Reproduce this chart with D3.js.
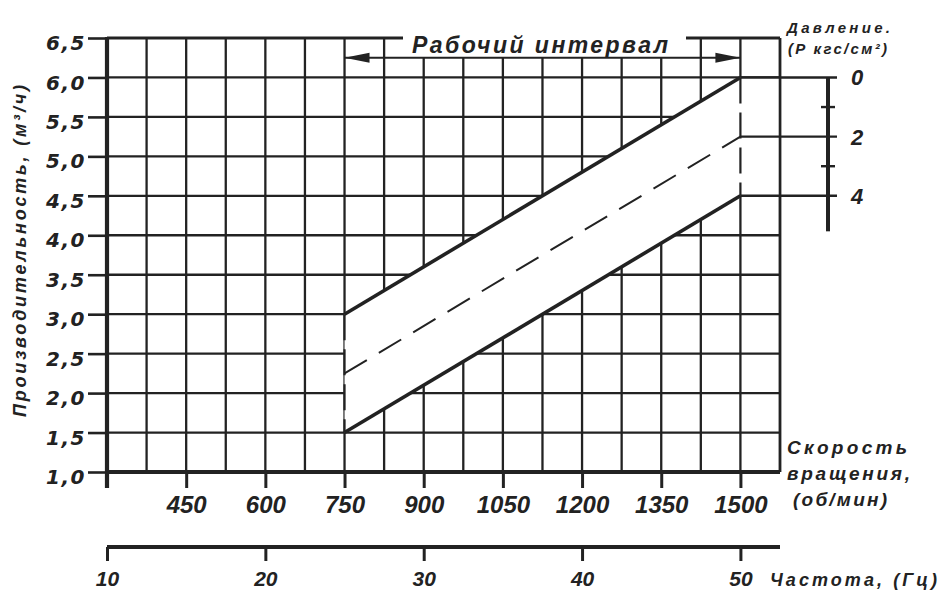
<!DOCTYPE html>
<html>
<head>
<meta charset="utf-8">
<script src="https://cdn.jsdelivr.net/npm/d3@7"></script>
<style>
  body { margin: 0; background: #fff; }
  text { fill: #222; }
</style>
</head>
<body>
<svg id="chart" width="943" height="595"></svg>
<script>
// Pump performance vs. rotation speed at several discharge pressures
const rpmTicks = [450, 600, 750, 900, 1050, 1200, 1350, 1500];
const hzTicks = [10, 20, 30, 40, 50];
const flowTicks = [1.0, 1.5, 2.0, 2.5, 3.0, 3.5, 4.0, 4.5, 5.0, 5.5, 6.0, 6.5];
const pressureTicks = [0, 1, 2, 3, 4];
const pressureLabels = [0, 2, 4];
const workRpm = [750, 1500];          // working interval ends
const flowAtP0 = [3.0, 6.0];          // P = 0 kgf/cm²
const flowAtP2 = [2.25, 5.25];        // P = 2 kgf/cm²
const flowAtP4 = [1.5, 4.5];          // P = 4 kgf/cm²

const ink = "#222";
const svg = d3.select("#chart");

const x = d3.scaleLinear().domain([300, 1575]).range([107, 780]);
const xHz = d3.scaleLinear().domain([10, 52.5]).range([107, 780]);
const y = d3.scaleLinear().domain([1.0, 6.5]).range([472, 38]);
// pressure read at the 1500 rpm edge
const pFlow = d3.scaleLinear().domain([0, 4]).range([flowAtP0[1], flowAtP4[1]]);

const gridRpm = d3.range(300, 1576, 75);

// grid
const grid = svg.append("g").attr("stroke", ink).attr("stroke-width", 2.3);
grid.selectAll("line.v").data(gridRpm).join("line")
  .attr("x1", d => x(d)).attr("x2", d => x(d))
  .attr("y1", y(6.5)).attr("y2", y(1.0));
grid.selectAll("line.h").data(flowTicks).join("line")
  .attr("x1", x(300)).attr("x2", x(1575))
  .attr("y1", d => y(d)).attr("y2", d => y(d))
  .attr("stroke-width", d => d === 6.5 ? 3 : 2.3);

// clear band between the P=0 and P=4 curves (and its extension to the right edge)
const band = [
  [workRpm[0], flowAtP0[0]], [workRpm[1], flowAtP0[1]], [1575, flowAtP0[1]],
  [1575, flowAtP4[1]], [workRpm[1], flowAtP4[1]], [workRpm[0], flowAtP4[0]]
];
svg.append("path")
  .attr("d", d3.line().x(d => x(d[0])).y(d => y(d[1]))(band) + "Z")
  .attr("fill", "#fff");

// dashed edges of the working interval inside the band
svg.append("g").attr("stroke", ink).attr("stroke-width", 2.2).attr("stroke-dasharray", "26,9")
  .selectAll("line").data([[workRpm[0], flowAtP0[0], flowAtP4[0]], [workRpm[1], flowAtP0[1], flowAtP4[1]]])
  .join("line")
  .attr("x1", d => x(d[0])).attr("x2", d => x(d[0]))
  .attr("y1", d => y(d[1])).attr("y2", d => y(d[2]));

// right border
svg.append("line").attr("stroke", ink).attr("stroke-width", 2.6)
  .attr("x1", x(1575)).attr("x2", x(1575)).attr("y1", y(6.5)).attr("y2", y(1.0));

// title box over the top row
svg.append("rect").attr("x", 403).attr("y", 28).attr("width", 283).attr("height", 29).attr("fill", "#fff");
svg.append("text")
  .attr("x", 412).attr("y", 53)
  .attr("textLength", 256).attr("lengthAdjust", "spacing")
  .style("font", "italic bold 23px 'Liberation Sans', Arial, sans-serif")
  .text("Рабочий интервал");

// working interval arrow
const arrowY = y(6.25);
svg.append("line").attr("stroke", ink).attr("stroke-width", 2.2)
  .attr("x1", x(workRpm[0])).attr("x2", x(workRpm[1])).attr("y1", arrowY).attr("y2", arrowY);
svg.append("path").attr("fill", ink)
  .attr("d", `M${x(workRpm[0])},${arrowY}l25,-5l0,10Z M${x(workRpm[1])},${arrowY}l-25,-5l0,10Z`);

// performance lines
const line = d3.line().x(d => x(d[0])).y(d => y(d[1]));
const series = [
  { vals: flowAtP0, w: 3.6, dash: null },
  { vals: flowAtP2, w: 2, dash: "26,14" },
  { vals: flowAtP4, w: 3.6, dash: null }
];
svg.append("g").selectAll("path").data(series).join("path")
  .attr("d", s => line(workRpm.map((r, i) => [r, s.vals[i]])))
  .attr("fill", "none").attr("stroke", ink)
  .attr("stroke-width", s => s.w)
  .attr("stroke-dasharray", s => s.dash);

// pressure scale on the right
const pAxisX = 828;
svg.append("g").attr("stroke", ink).attr("stroke-width", 2.4)
  .selectAll("line").data(pressureLabels).join("line")
  .attr("x1", x(workRpm[1])).attr("x2", pAxisX + 9)
  .attr("y1", p => y(pFlow(p))).attr("y2", p => y(pFlow(p)));
svg.append("line").attr("stroke", ink).attr("stroke-width", 4)
  .attr("x1", pAxisX).attr("x2", pAxisX).attr("y1", y(pFlow(0))).attr("y2", y(pFlow(5.2)));
svg.append("g").attr("stroke", ink).attr("stroke-width", 2.4)
  .selectAll("line").data(pressureTicks.filter(p => !pressureLabels.includes(p))).join("line")
  .attr("x1", pAxisX - 7).attr("x2", pAxisX + 7)
  .attr("y1", p => y(pFlow(p))).attr("y2", p => y(pFlow(p)));
svg.append("g").selectAll("text").data(pressureLabels).join("text")
  .attr("x", 851).attr("y", p => y(pFlow(p))).attr("dy", "0.36em")
  .style("font", "italic bold 22px 'Liberation Sans', Arial, sans-serif")
  .text(d => d);

svg.append("text").attr("x", 787).attr("y", 33).attr("textLength", 103).attr("lengthAdjust", "spacing")
  .style("font", "italic bold 15px 'Liberation Sans', Arial, sans-serif").text("Давление.");
svg.append("text").attr("x", 788).attr("y", 54).attr("textLength", 99).attr("lengthAdjust", "spacing")
  .style("font", "italic bold 15px 'Liberation Sans', Arial, sans-serif").text("(P кгс/см²)");

// left flow axis
const yAxis = svg.append("g").attr("transform", `translate(${x(300)},0)`)
  .call(d3.axisLeft(y).tickValues(flowTicks).tickSize(19).tickPadding(2)
    .tickFormat(d => d3.format(".1f")(d).replace(".", ",")));
yAxis.select(".domain").remove();
yAxis.selectAll(".tick line").attr("stroke", ink).attr("stroke-width", 2.6);
yAxis.selectAll(".tick text").attr("dy", "0.58em").attr("fill", ink)
  .style("font", "italic bold 20px 'DejaVu Sans', sans-serif").style("letter-spacing", "1.5px");
svg.append("line").attr("stroke", ink).attr("stroke-width", 4.2)
  .attr("x1", x(300)).attr("x2", x(300)).attr("y1", y(6.5) - 1).attr("y2", y(1.0) + 16);

svg.append("text")
  .attr("transform", `translate(26,251) rotate(-90)`)
  .attr("text-anchor", "middle")
  .attr("textLength", 332).attr("lengthAdjust", "spacing")
  .style("font", "italic bold 18px 'Liberation Sans', Arial, sans-serif")
  .text("Производительность, (м³/ч)");

// rotation speed axis
svg.append("line").attr("stroke", ink).attr("stroke-width", 4.2)
  .attr("x1", x(300)).attr("x2", x(1575)).attr("y1", y(1.0)).attr("y2", y(1.0));
const xAxis = svg.append("g").attr("transform", `translate(0,${y(1.0)})`)
  .call(d3.axisBottom(x).tickValues(rpmTicks).tickSize(16).tickPadding(8).tickFormat(d3.format("d")));
xAxis.select(".domain").remove();
xAxis.selectAll(".tick line").attr("stroke", ink).attr("stroke-width", 3);
xAxis.selectAll(".tick text").attr("dy", "0.71em").attr("fill", ink)
  .style("font", "italic bold 24px 'Liberation Sans', Arial, sans-serif");

const rpmTitle = ["Скорость", "вращения,", "(об/мин)"];
svg.append("g").selectAll("text").data(rpmTitle).join("text")
  .attr("x", (d, i) => i === 2 ? 793 : 787)
  .attr("y", (d, i) => 454 + i * 26)
  .attr("textLength", (d, i) => [120, 123, 94][i]).attr("lengthAdjust", "spacing")
  .style("font", "italic bold 19px 'Liberation Sans', Arial, sans-serif")
  .text(d => d);

// frequency axis
const hzY = 547;
svg.append("line").attr("stroke", ink).attr("stroke-width", 4)
  .attr("x1", xHz(10)).attr("x2", x(1575)).attr("y1", hzY).attr("y2", hzY);
const hzAxis = svg.append("g").attr("transform", `translate(0,${hzY})`)
  .call(d3.axisBottom(xHz).tickValues(hzTicks).tickSize(14).tickPadding(10));
hzAxis.select(".domain").remove();
hzAxis.selectAll(".tick line").attr("stroke", ink).attr("stroke-width", 3);
hzAxis.selectAll(".tick text").attr("dy", "0.71em").attr("fill", ink)
  .style("font", "italic bold 21px 'Liberation Sans', Arial, sans-serif");
svg.append("text").attr("x", 770).attr("y", 586).attr("textLength", 167).attr("lengthAdjust", "spacing")
  .style("font", "italic bold 18px 'Liberation Sans', Arial, sans-serif")
  .text("Частота, (Гц)");
</script>
</body>
</html>
